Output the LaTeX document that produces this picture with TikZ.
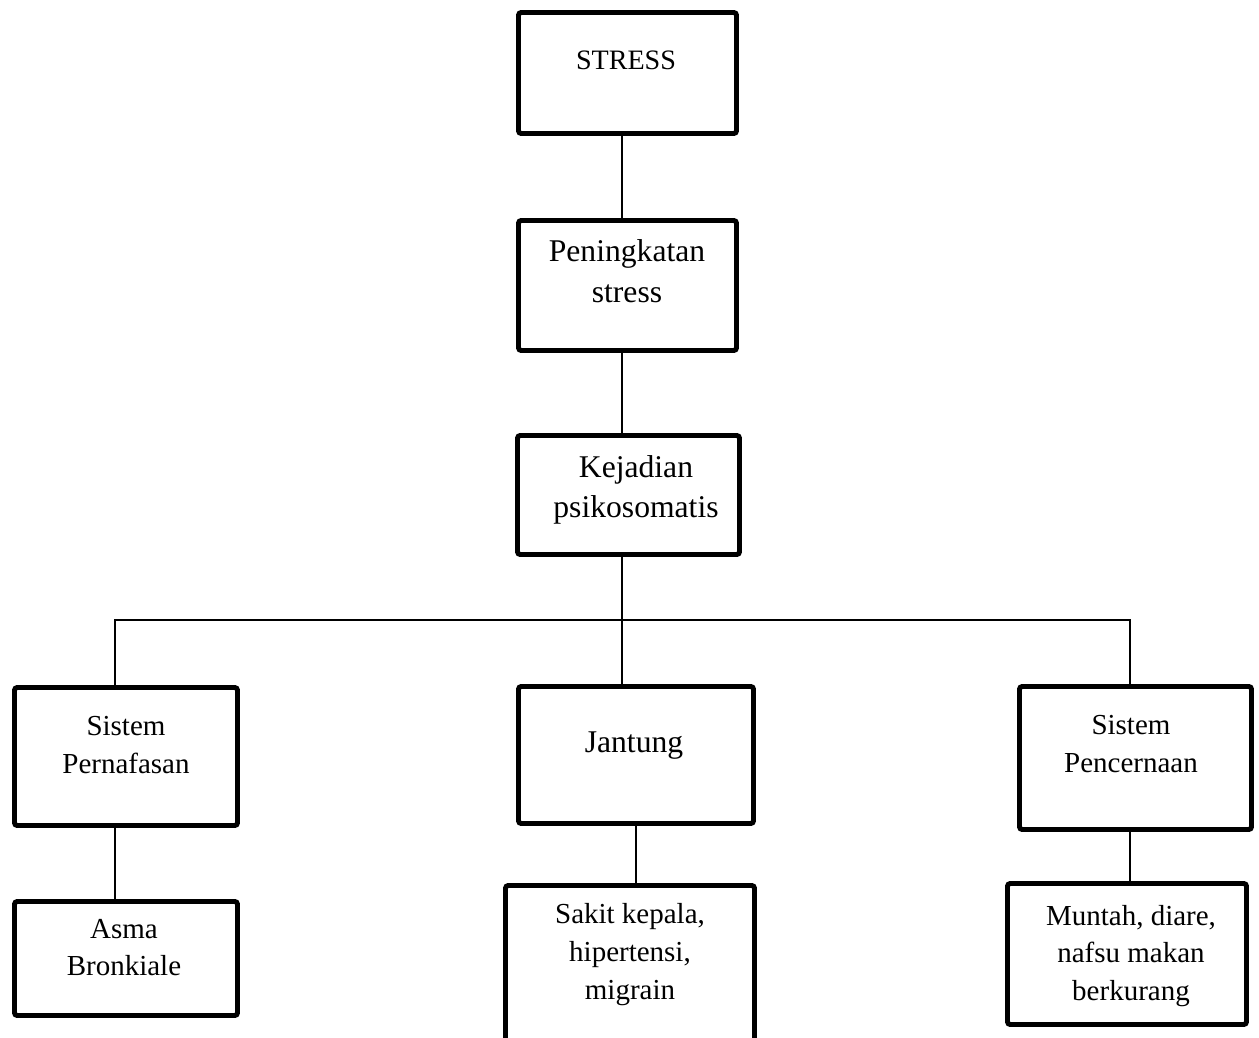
\documentclass[tikz,border=0pt]{standalone}
\usepackage{fontspec}
\setmainfont{Liberation Serif}
\usepackage{tikz}
\usetikzlibrary{positioning,calc}

\begin{document}
\begin{tikzpicture}[
    x=0.02cm, y=-0.02cm,
    box/.style={rectangle, draw, line width=2.8pt, rounded corners=1.5pt},
    txt/.style={align=center, inner sep=0pt, font=\fontsize{16.5}{21.5}\selectfont},
    big/.style={txt, font=\fontsize{18}{23.2}\selectfont},
    link/.style={line width=0.7pt}
]
    \useasboundingbox (0,0) rectangle (1259,1038);

    % Main chain
    \node[box, minimum width=4.36cm, minimum height=2.42cm] (stress) at (627.5,73) {};
    \node[box, minimum width=4.36cm, minimum height=2.60cm] (peningkatan) at (627.5,285.5) {};
    \node[box, minimum width=4.44cm, minimum height=2.38cm] (kejadian) at (628.5,495) {};

    % Organ systems
    \node[box, minimum width=4.46cm, minimum height=2.76cm] (pernafasan) at (126,756.5) {};
    \node[box, minimum width=4.70cm, minimum height=2.74cm] (jantung) at (636,755) {};
    \node[box, minimum width=4.64cm, minimum height=2.86cm] (pencernaan) at (1135.5,758) {};

    % Symptoms
    \node[box, minimum width=4.46cm, minimum height=2.28cm] (asma) at (126,958.5) {};
    \node[box, minimum width=4.98cm, minimum height=3.40cm] (sakit) at (630,970.5) {};
    \node[box, minimum width=4.78cm, minimum height=2.82cm] (muntah) at (1127,954) {};

    % Texts
    \node[txt, font=\fontsize{16}{20}\selectfont] (stress-t) at (626,60) {STRESS};
    \node[big] (peningkatan-t) at (627,271.5) {Peningkatan\\stress};
    \node[big] (kejadian-t) at (636,490) {Kejadian\\psikosomatis};
    \node[big] (jantung-t) at (634,746) {Jantung};
    \node[txt] (pernafasan-t) at (126,745) {Sistem\\Pernafasan};
    \node[txt] (pencernaan-t) at (1131,744) {Sistem\\Pencernaan};
    \node[txt] (asma-t) at (124,947.5) {Asma\\Bronkiale};
    \node[txt] (sakit-t) at (630,954.5) {Sakit kepala,\\hipertensi,\\migrain};
    \node[txt] (muntah-t) at (1131,956) {Muntah, diare,\\nafsu makan\\berkurang};

    % Connectors
    \coordinate (bus) at (622,620);
    \coordinate (busL) at (115,620);
    \coordinate (busR) at (1130,620);
    \draw[link] (stress.south -| bus) -- (peningkatan.north -| bus);
    \draw[link] (peningkatan.south -| bus) -- (kejadian.north -| bus);
    \draw[link] (kejadian.south -| bus) -- (jantung.north -| bus);
    \draw[link] (pernafasan.north -| busL) -- (busL) -- (busR) -- (pencernaan.north -| busR);
    \draw[link] (pernafasan.south -| busL) -- (asma.north -| busL);
    \draw[link] (jantung.south) -- (jantung.south |- sakit.north);
    \draw[link] (pencernaan.south -| busR) -- (muntah.north -| busR);

\end{tikzpicture}
\end{document}
